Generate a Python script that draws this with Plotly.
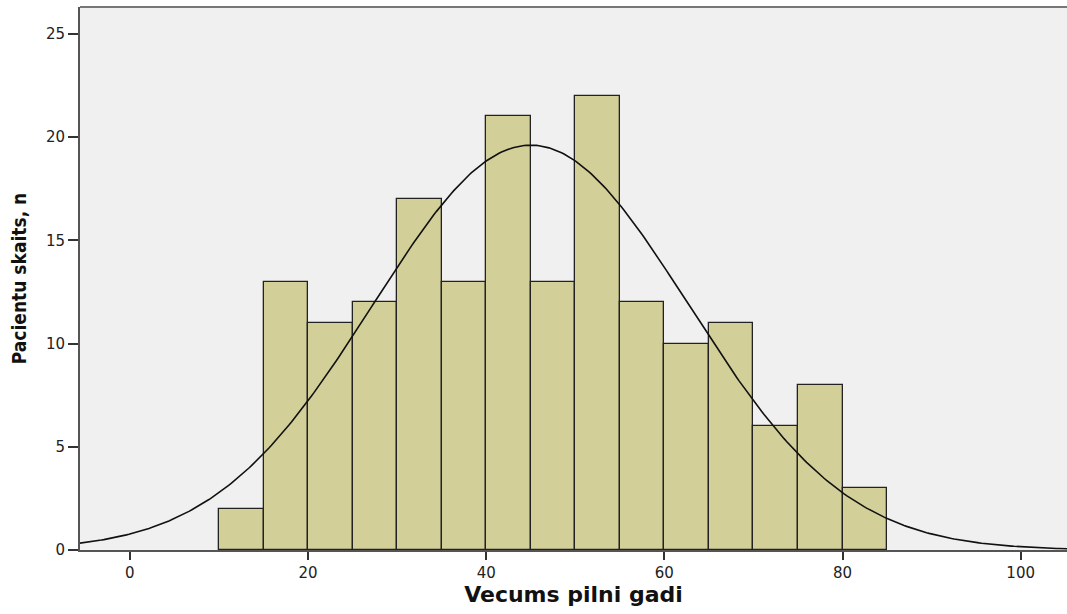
import numpy as np
import plotly.graph_objects as go

bin_starts = [10, 15, 20, 25, 30, 35, 40, 45, 50, 55, 60, 65, 70, 75, 80]
counts = [2, 13, 11, 12, 17, 13, 21, 13, 22, 12, 10, 11, 6, 8, 3]
bin_width = 5
mean_age = 45.0
sd_age = 17.7
x_ticks = [0, 20, 40, 60, 80, 100]
y_ticks = [0, 5, 10, 15, 20, 25]

centers = [b + bin_width / 2 for b in bin_starts]
n_total = sum(counts)
xs = np.linspace(-6, 106, 400)
ys = n_total * bin_width / (sd_age * np.sqrt(2 * np.pi)) * np.exp(-0.5 * ((xs - mean_age) / sd_age) ** 2)

tick_font = dict(size=15, color="#222222", family="DejaVu Sans, sans-serif")

fig = go.Figure()
fig.add_trace(go.Bar(
    x=centers, y=counts, width=bin_width,
    marker=dict(color="#d3cf98", line=dict(color="#222222", width=1.3)),
    hoverinfo="x+y",
))
fig.add_trace(go.Scatter(x=xs, y=ys, mode="lines", line=dict(color="#111111", width=1.6), hoverinfo="skip"))

fig.update_layout(
    width=1067, height=614,
    margin=dict(l=80, r=0, t=7, b=64),
    paper_bgcolor="white", plot_bgcolor="#f0f0f0",
    showlegend=False, bargap=0,
    font=dict(family="DejaVu Sans, sans-serif", color="#222222"),
    xaxis=dict(
        range=[-5.6, 105.2], tickvals=x_ticks, ticks="outside", ticklen=8, tickwidth=2,
        tickcolor="#333333", showline=True, linecolor="#555555", linewidth=2,
        showgrid=False, zeroline=False, tickfont=tick_font,
        title=dict(text="<b>Vecums pilni gadi</b>", font=dict(size=22, family="DejaVu Sans, sans-serif", color="#111111"), standoff=5),
    ),
    yaxis=dict(
        range=[0, 26.3], tickvals=y_ticks, ticks="outside", ticklen=10, tickwidth=2,
        tickcolor="#333333", showline=True, linecolor="#555555", linewidth=2,
        showgrid=False, zeroline=False, tickfont=tick_font,
        title=dict(text="<b>Pacientu skaits, n</b>", font=dict(size=19, family="DejaVu Sans Condensed, DejaVu Sans, sans-serif", color="#111111"), standoff=14),
    ),
)
fig.add_shape(type="line", xref="paper", yref="paper", x0=0, x1=1, y0=1, y1=1,
              line=dict(color="#777777", width=2))
fig.write_html("out.html", config={"displayModeBar": False},
               post_script="document.body.style.margin='0';document.body.style.overflow='hidden';")
